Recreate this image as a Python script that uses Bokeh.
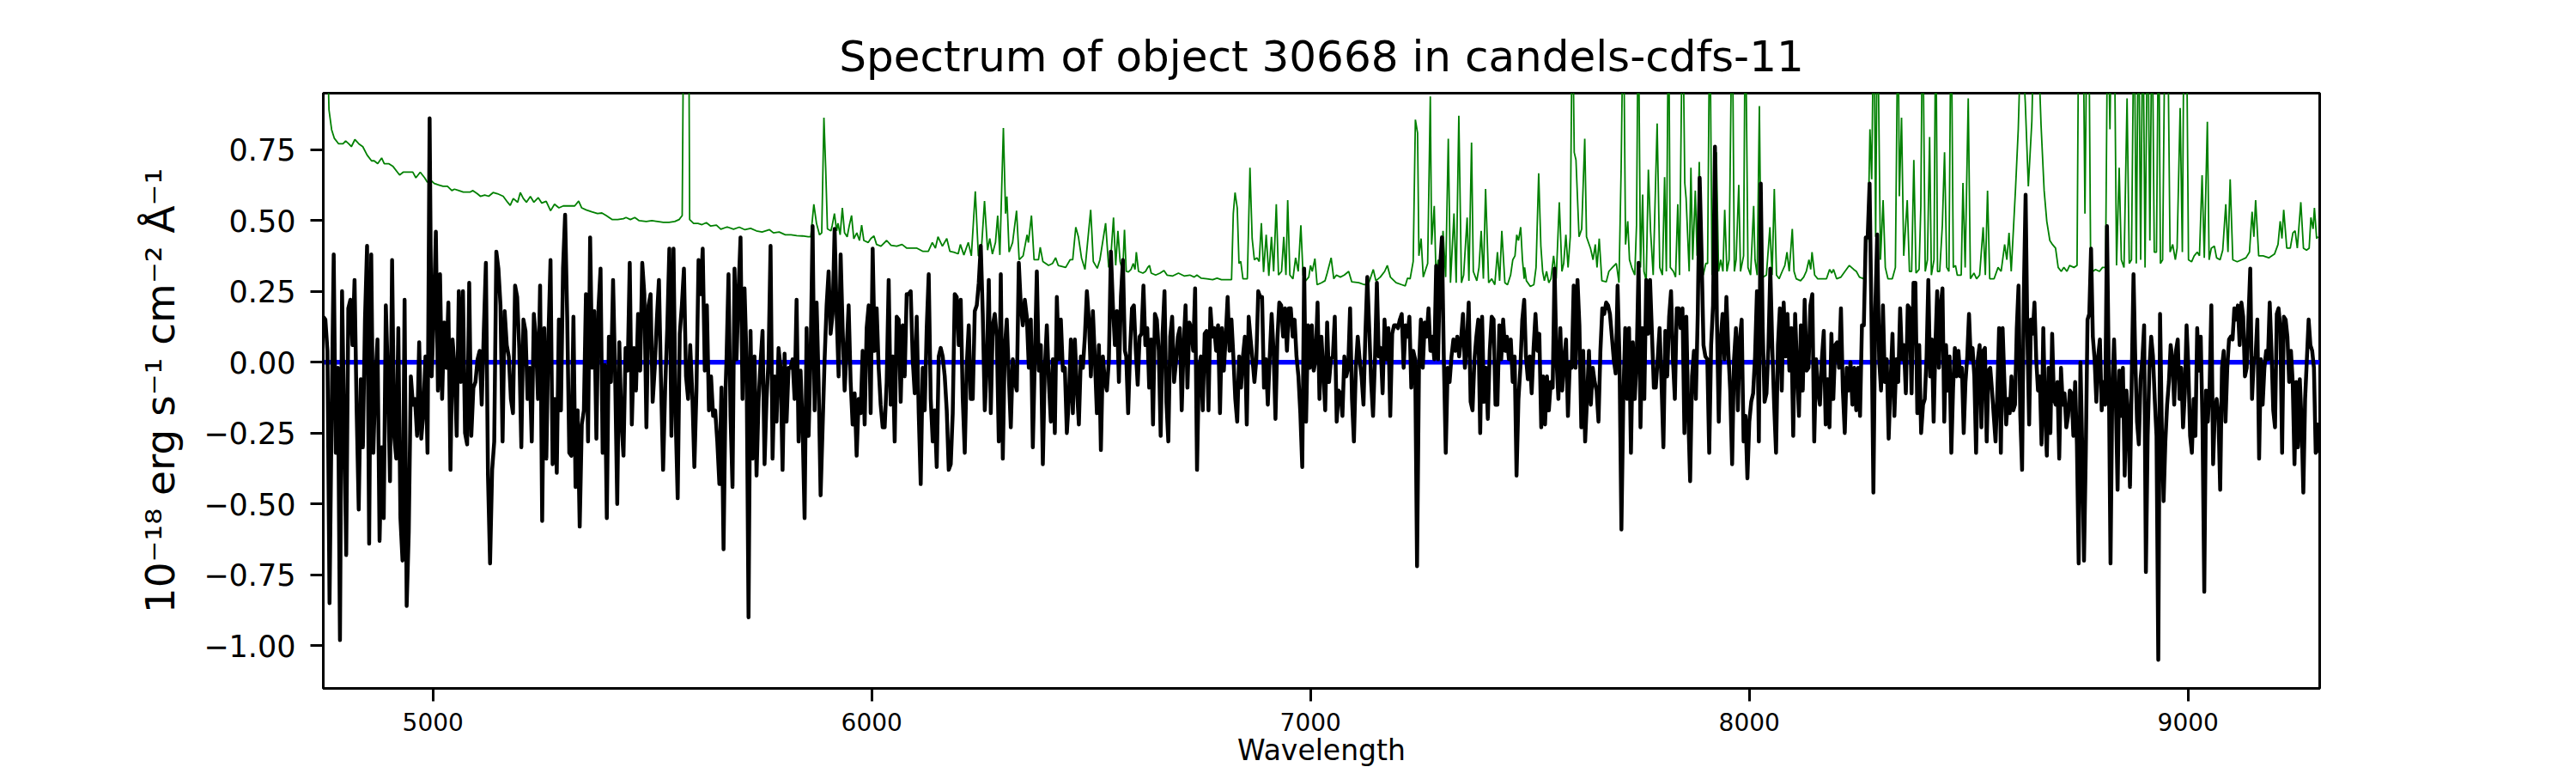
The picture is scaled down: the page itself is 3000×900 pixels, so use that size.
import numpy as np
from bokeh.plotting import figure
from bokeh.models import Range1d, FixedTicker, ColumnDataSource
from bokeh.embed import file_html
from bokeh.resources import INLINE

# ---------------- data ----------------
# observed flux (black), five consecutive wavelength stretches
seg_ranges = [(4750, 5667), (5669, 6577), (6580, 7487), (7491, 8396), (8400, 9299)]

flux_seg1 = [0.16, 0.15, 0.04, -0.85, -0.18, 0.38, -0.32, -0.02, -0.98, 0.25, -0.21, -0.68, 0.19, 0.22, 0.06, 0.29,
             -0.17, -0.52, -0.06, -0.30, 0.15, 0.41, -0.64, 0.38, -0.32, -0.06, 0.08, -0.63, -0.30, -0.55, 0.20, -0.05,
             -0.42, 0.36, -0.26, -0.34, 0.12, -0.55, -0.70, 0.22, -0.86, -0.60, -0.05, -0.15, -0.13, -0.26, 0.07, -0.27,
             -0.18, 0.02, -0.32, 0.86, -0.05, 0.17, 0.46, -0.10, 0.31, -0.13, 0.14, -0.02, 0.21, -0.38, 0.08, -0.02,
             -0.26, 0.25, -0.07, 0.25, -0.25, -0.29, 0.28, -0.26, -0.09, -0.07, 0.01, 0.04, -0.15, 0.11, 0.35, -0.40,
             -0.71, -0.38, -0.28, 0.39, 0.33, 0.20, -0.28, 0.18, 0.06, 0.02, -0.13, -0.18, 0.27, 0.23, 0.05, -0.30,
             0.15, 0.11, -0.13, -0.02, -0.28, 0.17, 0.08, -0.13, 0.27, -0.56, 0.12, -0.34, 0.09, 0.36, -0.36, -0.13,
             -0.39, 0.15, -0.17, 0.33, 0.52, 0.16, -0.32, -0.33, 0.16, -0.44, -0.17, -0.58, -0.22, -0.17, 0.24, -0.28,
             0.44, -0.02, 0.18, -0.27, 0.19, 0.33, -0.32, -0.01, -0.55, 0.09, -0.07, 0.29, -0.05, -0.50, 0.07, -0.21,
             -0.33, 0.05, -0.03, 0.35, -0.22, 0.05, -0.10, 0.17, -0.03, 0.35, 0.24, -0.23, 0.20, 0.24, -0.14, -0.02,
             0.15, 0.29, -0.07, -0.38, -0.09, 0.12, 0.40, -0.26, 0.40, -0.19, -0.48, 0.10, 0.20, 0.33, -0.05, -0.13,
             0.06, -0.11, -0.37, -0.10, 0.36, 0.24, 0.40, -0.03, 0.20, -0.17, -0.05, -0.19, -0.17, -0.28, -0.43, -0.09,
             -0.66, -0.09]

flux_seg2 = [0.01, 0.31, -0.19, -0.44, 0.33, 0.01, 0.25, 0.44, -0.13, 0.26, 0.01, -0.90, 0.11, -0.34, 0.02, -0.40,
             -0.14, 0.00, 0.11, -0.36, -0.13, 0.01, 0.41, -0.34, -0.05, -0.21, 0.05, -0.02, -0.38, 0.03, -0.21, -0.02,
             -0.02, 0.01, -0.13, 0.22, -0.28, -0.03, -0.23, -0.55, 0.12, -0.26, 0.02, 0.48, -0.17, 0.21, -0.07, -0.47,
             -0.23, 0.01, 0.20, 0.32, 0.10, 0.17, 0.47, 0.17, -0.05, 0.38, 0.12, -0.10, 0.04, 0.20, -0.07, -0.22,
             -0.11, -0.33, -0.13, -0.18, 0.04, -0.22, 0.12, 0.20, -0.18, 0.40, 0.04, 0.19, -0.02, -0.15, -0.23, -0.23,
             -0.07, 0.29, -0.15, 0.02, -0.28, 0.16, 0.15, -0.14, 0.13, -0.05, 0.24, 0.24, 0.25, 0.01, -0.11, 0.16,
             -0.18, -0.43, -0.02, -0.17, 0.12, 0.31, -0.13, -0.28, -0.17, -0.37, 0.02, 0.05, 0.02, -0.05, -0.17, -0.38,
             -0.36, -0.18, 0.24, 0.23, 0.06, 0.22, -0.13, -0.32, -0.01, 0.13, -0.13, -0.13, 0.18, 0.20, 0.28, 0.41,
             0.17, -0.17, -0.02, 0.29, -0.18, 0.13, 0.17, 0.09, -0.28, 0.31, -0.34, 0.05, 0.15, -0.05, -0.23, 0.01,
             -0.07, -0.10, 0.35, 0.20, 0.13, 0.22, 0.16, -0.02, 0.15, -0.30, 0.01, 0.32, -0.03, 0.06, -0.36, -0.02,
             0.13, -0.07, -0.21, 0.01, -0.25, 0.23, 0.01, 0.15, -0.03, -0.02, -0.25, -0.13, 0.08, -0.18, 0.08, -0.09,
             -0.22, 0.02, -0.02, 0.09, 0.25, 0.15, -0.05, 0.18, 0.01, -0.18, 0.06, -0.31, 0.02, -0.07, -0.10, 0.01,
             0.39, 0.20, 0.06, 0.18, -0.07, 0.23, 0.36, 0.04]

flux_seg3 = [0.02, -0.18, 0.04, 0.19, 0.20, 0.04, -0.08, 0.09, 0.10, 0.27, 0.06, 0.12, -0.09, 0.08, -0.22, 0.17,
             0.15, 0.04, -0.26, 0.10, 0.25, -0.14, -0.28, 0.09, 0.16, -0.07, 0.00, 0.09, 0.12, -0.17, 0.06, 0.20,
             -0.09, 0.14, 0.12, 0.04, 0.26, -0.38, -0.02, 0.02, -0.17, 0.10, 0.11, -0.17, 0.19, 0.09, 0.12, 0.04,
             0.13, -0.18, 0.12, -0.03, 0.09, 0.23, 0.04, 0.15, 0.02, -0.13, -0.21, 0.02, -0.09, 0.02, 0.09, -0.22,
             0.16, 0.08, 0.01, -0.07, 0.01, 0.25, 0.23, 0.23, -0.09, 0.01, -0.15, 0.02, 0.17, 0.04, -0.20, 0.08,
             0.21, 0.20, 0.09, 0.19, 0.04, 0.19, 0.19, 0.09, 0.15, 0.02, -0.05, -0.18, -0.37, 0.33, -0.21, 0.13,
             -0.02, 0.13, -0.03, 0.01, 0.21, -0.13, 0.09, -0.03, -0.17, 0.14, -0.07, 0.01, 0.02, 0.16, -0.21, -0.10,
             -0.11, -0.19, 0.02, -0.05, -0.02, 0.19, -0.13, -0.28, -0.02, 0.09, 0.01, -0.05, -0.15, 0.10, 0.30, 0.12,
             -0.07, -0.19, 0.01, 0.28, 0.02, 0.05, -0.11, 0.15, 0.01, 0.12, -0.19, 0.10, 0.13, 0.13, 0.12, 0.15,
             0.17, -0.02, 0.13, 0.09, 0.16, -0.09, 0.04, 0.01, -0.72, -0.02, 0.15, -0.02, 0.14, 0.09, 0.19, 0.04,
             0.09, 0.01, 0.34, 0.01, 0.33, 0.44, 0.01, -0.32, -0.02, -0.07, 0.02, 0.08, 0.04, 0.09, 0.02, 0.08,
             0.17, -0.02, 0.06, 0.21, -0.14, -0.17, 0.01, 0.09, 0.15, -0.25, 0.16, -0.14, -0.02, -0.20, 0.04, 0.16,
             0.15, -0.15, -0.15, 0.13, 0.01, 0.15, 0.04, 0.09, 0.01, 0.08, -0.07, 0.02, -0.40, -0.13, -0.02, 0.15,
             0.22]

flux_seg4 = [0.02, -0.06, 0.02, -0.11, 0.05, 0.17, 0.04, 0.10, -0.23, -0.05, -0.22, -0.05, -0.17, -0.07, -0.09, 0.33,
             0.01, -0.13, 0.12, -0.10, 0.01, 0.08, -0.19, 0.00, -0.02, 0.27, -0.02, 0.29, 0.13, -0.23, 0.04, -0.28,
             -0.13, 0.04, -0.15, -0.02, -0.07, -0.10, -0.21, 0.04, 0.19, 0.17, 0.21, 0.20, 0.17, 0.09, 0.01, -0.04,
             0.27, 0.01, -0.59, -0.13, 0.12, -0.13, 0.12, -0.32, 0.07, -0.13, 0.01, 0.35, -0.23, 0.12, -0.13, 0.29,
             0.10, 0.29, 0.10, -0.09, -0.09, 0.01, 0.12, -0.07, -0.30, 0.11, -0.05, 0.16, 0.25, 0.01, -0.13, 0.19,
             0.19, 0.12, 0.19, -0.25, 0.16, -0.18, -0.42, -0.05, 0.04, -0.13, 0.17, 0.65, 0.38, 0.06, 0.02, 0.01,
             -0.32, 0.06, 0.20, 0.76, 0.16, -0.21, 0.08, 0.17, 0.01, 0.23, 0.04, -0.10, -0.36, 0.01, 0.12, -0.17,
             0.08, 0.15, -0.28, -0.19, -0.41, -0.21, -0.14, -0.11, 0.02, 0.25, -0.28, 0.63, 0.12, -0.14, -0.11, 0.05,
             0.33, 0.06, -0.15, -0.32, 0.06, 0.19, -0.10, 0.21, 0.02, 0.17, -0.03, 0.12, -0.26, 0.17, -0.02, -0.19,
             0.13, -0.10, 0.22, -0.03, -0.02, 0.20, 0.24, -0.28, 0.01, -0.10, -0.15, 0.01, 0.11, -0.22, -0.06, -0.23,
             0.10, -0.13, 0.06, 0.07, -0.02, 0.19, -0.10, -0.25, -0.02, -0.10, 0.00, -0.15, -0.02, -0.17, -0.02, -0.19,
             0.13, 0.13, 0.44, 0.44, 0.63, 0.15, -0.46, 0.19, 0.45, 0.01, -0.10, 0.20, -0.07, 0.01, -0.27, -0.07,
             0.10, -0.19, 0.01, -0.07, 0.19, 0.01, 0.06, -0.11, 0.20, 0.19, -0.11, 0.28, 0.28, -0.18, 0.06, -0.25,
             -0.15]

flux_seg5 = [-0.13, 0.02, 0.29, -0.05, 0.08, -0.21, 0.06, 0.25, -0.02, 0.20, 0.26, -0.21, 0.06, -0.10, 0.02, -0.32,
             -0.09, 0.05, -0.05, 0.04, -0.05, -0.02, -0.25, -0.07, 0.02, 0.17, 0.01, 0.05, -0.05, -0.32, 0.01, 0.06,
             -0.23, 0.04, 0.05, -0.28, -0.03, -0.02, -0.10, -0.19, -0.28, -0.11, 0.12, -0.32, 0.12, -0.07, -0.22, -0.13,
             -0.18, -0.05, -0.17, -0.15, 0.12, 0.27, -0.19, -0.38, 0.25, 0.59, 0.09, -0.22, 0.15, 0.10, 0.21, 0.01,
             -0.10, -0.05, -0.29, 0.12, -0.17, -0.33, -0.02, -0.25, 0.10, -0.13, -0.15, -0.07, -0.34, -0.02, -0.15, -0.11,
             -0.23, -0.19, -0.10, -0.11, -0.26, -0.07, -0.29, -0.71, 0.00, -0.30, -0.70, -0.33, 0.15, 0.17, 0.40, 0.09,
             0.01, -0.14, 0.02, 0.08, -0.17, -0.07, -0.15, 0.48, -0.02, -0.71, -0.10, 0.08, -0.13, -0.45, -0.03, -0.19,
             -0.02, -0.40, -0.10, -0.19, -0.44, -0.05, 0.31, 0.01, -0.21, -0.29, -0.06, 0.01, 0.13, -0.74, -0.26, -0.02,
             0.09, 0.02, -0.13, -0.26, -1.05, 0.17, -0.23, -0.49, -0.28, -0.15, -0.07, 0.06, 0.01, -0.15, 0.04, 0.08,
             -0.13, -0.02, -0.23, -0.11, 0.13, -0.02, -0.26, -0.32, -0.13, -0.26, 0.12, -0.03, 0.09, -0.22, -0.81, -0.10,
             -0.21, -0.09, 0.20, -0.36, -0.17, -0.13, -0.19, -0.45, -0.02, 0.04, -0.21, -0.02, 0.08, 0.09, 0.08, 0.19,
             0.15, 0.20, 0.06, 0.21, 0.16, -0.05, -0.02, 0.16, 0.33, -0.13, 0.01, 0.02, 0.15, -0.34, 0.01, -0.15,
             -0.02, 0.04, 0.01, 0.21, 0.04, -0.17, -0.23, 0.17, 0.19, 0.12, -0.32, 0.16, 0.15, 0.09, -0.07, 0.04,
             -0.07, -0.36, -0.07, -0.30, -0.06, -0.21, -0.46, -0.13, 0.01, 0.15, 0.06, 0.04, -0.02, -0.32, -0.22, -0.32]

# noise / sky spectrum (green): (wavelength, value) nodes
sky_a = [(4750, 1.3), (4762, 0.95), (4763, 0.89), (4769, 0.82), (4775, 0.79), (4785, 0.77), (4795, 0.77),
         (4801, 0.78), (4808, 0.77), (4814, 0.76), (4822, 0.785), (4831, 0.77), (4840, 0.76), (4850, 0.73),
         (4860, 0.71), (4866, 0.71), (4874, 0.70), (4883, 0.72), (4889, 0.70), (4899, 0.70), (4909, 0.69),
         (4919, 0.67), (4924, 0.66), (4932, 0.67), (4945, 0.67), (4954, 0.67), (4961, 0.65), (4971, 0.67),
         (4981, 0.65), (4987, 0.635), (4996, 0.64), (5003, 0.63), (5013, 0.625), (5023, 0.62), (5033, 0.62),
         (5043, 0.605), (5049, 0.61), (5059, 0.605), (5069, 0.60), (5078, 0.60), (5085, 0.60), (5091, 0.605),
         (5101, 0.594), (5108, 0.585), (5118, 0.589), (5127, 0.585), (5137, 0.598), (5147, 0.594), (5160, 0.585),
         (5170, 0.564), (5176, 0.553), (5183, 0.577), (5193, 0.564), (5199, 0.598), (5206, 0.577), (5213, 0.564),
         (5222, 0.584), (5230, 0.564), (5240, 0.58), (5248, 0.561), (5258, 0.567), (5268, 0.534), (5277, 0.557),
         (5287, 0.544), (5297, 0.551), (5310, 0.551), (5323, 0.551), (5332, 0.568), (5339, 0.544), (5349, 0.537),
         (5362, 0.53), (5375, 0.524), (5385, 0.526), (5395, 0.517), (5408, 0.503), (5421, 0.503), (5434, 0.506),
         (5440, 0.51), (5450, 0.503), (5460, 0.51), (5470, 0.499), (5486, 0.496), (5499, 0.499), (5512, 0.496),
         (5525, 0.493), (5538, 0.493), (5551, 0.496), (5561, 0.503), (5568, 0.517), (5572, 1.4), (5577, 1.6),
         (5583, 1.2), (5585, 0.503), (5594, 0.489), (5604, 0.489), (5613, 0.485), (5623, 0.492), (5633, 0.48),
         (5646, 0.483), (5656, 0.469), (5669, 0.476)]

sky_b = [(5672, 0.476), (5685, 0.469), (5698, 0.476), (5711, 0.467), (5724, 0.472), (5737, 0.463), (5750, 0.459),
         (5767, 0.467), (5776, 0.456), (5789, 0.459), (5803, 0.449), (5816, 0.449), (5829, 0.446), (5842, 0.445),
         (5855, 0.442), (5861, 0.442), (5868, 0.557), (5874, 0.490), (5881, 0.449), (5886, 0.456), (5891, 0.862),
         (5895, 0.686), (5899, 0.470), (5907, 0.463), (5910, 0.483), (5915, 0.524), (5920, 0.463), (5923, 0.490),
         (5928, 0.449), (5933, 0.544), (5938, 0.456), (5944, 0.442), (5949, 0.483), (5954, 0.517), (5959, 0.435),
         (5966, 0.456), (5972, 0.429), (5977, 0.483), (5982, 0.429), (5992, 0.422), (5998, 0.436), (6005, 0.445),
         (6011, 0.415), (6021, 0.409), (6034, 0.429), (6044, 0.412), (6057, 0.409), (6069, 0.415), (6080, 0.402),
         (6090, 0.402), (6103, 0.402), (6116, 0.391), (6129, 0.391), (6138, 0.422), (6145, 0.402), (6151, 0.442),
         (6161, 0.409), (6171, 0.436), (6178, 0.391), (6187, 0.388), (6197, 0.382), (6202, 0.415), (6210, 0.378),
         (6220, 0.422), (6227, 0.375), (6236, 0.602), (6243, 0.375), (6249, 0.375), (6257, 0.568), (6264, 0.395),
         (6269, 0.436), (6275, 0.381), (6282, 0.422), (6287, 0.517), (6292, 0.378), (6300, 0.826), (6305, 0.524),
         (6308, 0.584), (6313, 0.388), (6321, 0.422), (6330, 0.534), (6336, 0.361), (6345, 0.375), (6354, 0.449),
         (6357, 0.422), (6364, 0.517), (6370, 0.361), (6380, 0.361), (6384, 0.405), (6390, 0.355), (6403, 0.341),
         (6412, 0.348), (6419, 0.368), (6425, 0.341), (6442, 0.334), (6452, 0.361), (6458, 0.361), (6465, 0.476),
         (6471, 0.442), (6478, 0.368), (6486, 0.327), (6499, 0.537), (6505, 0.355), (6514, 0.331), (6520, 0.361),
         (6533, 0.490), (6540, 0.334), (6546, 0.395), (6551, 0.510), (6556, 0.341), (6561, 0.463), (6566, 0.355)]

sky_c = [(6572, 0.320), (6576, 0.467), (6580, 0.320), (6585, 0.318), (6591, 0.327), (6596, 0.348), (6600, 0.327),
         (6603, 0.388), (6608, 0.320), (6618, 0.314), (6624, 0.320), (6629, 0.334), (6633, 0.341), (6637, 0.314),
         (6647, 0.307), (6657, 0.314), (6666, 0.323), (6673, 0.307), (6686, 0.304), (6699, 0.314), (6712, 0.304),
         (6725, 0.307), (6735, 0.300), (6741, 0.307), (6751, 0.296), (6764, 0.294), (6777, 0.291), (6787, 0.296),
         (6797, 0.291), (6820, 0.291), (6824, 0.524), (6828, 0.598), (6833, 0.544), (6837, 0.348), (6841, 0.355),
         (6846, 0.294), (6856, 0.294), (6862, 0.686), (6867, 0.436), (6872, 0.361), (6878, 0.368), (6883, 0.355),
         (6888, 0.490), (6893, 0.318), (6899, 0.449), (6905, 0.304), (6911, 0.442), (6916, 0.320), (6922, 0.557),
         (6927, 0.307), (6934, 0.320), (6939, 0.442), (6944, 0.307), (6948, 0.571), (6953, 0.307), (6960, 0.294),
         (6966, 0.368), (6972, 0.320), (6978, 0.483), (6983, 0.307), (6989, 0.287), (6996, 0.300), (7000, 0.341),
         (7004, 0.320), (7010, 0.365), (7015, 0.273), (7025, 0.280), (7033, 0.287), (7038, 0.314), (7047, 0.368),
         (7053, 0.294), (7059, 0.307), (7068, 0.300), (7077, 0.307), (7087, 0.320), (7094, 0.283), (7110, 0.280),
         (7123, 0.273), (7133, 0.280), (7143, 0.327), (7149, 0.287), (7159, 0.300), (7169, 0.320), (7175, 0.341),
         (7182, 0.300), (7195, 0.280), (7208, 0.273), (7216, 0.269), (7221, 0.296), (7227, 0.294), (7234, 0.355),
         (7239, 0.855), (7244, 0.808), (7247, 0.375), (7252, 0.436), (7257, 0.300), (7261, 0.320), (7267, 0.348),
         (7273, 0.937), (7276, 0.415), (7282, 0.551), (7286, 0.307), (7291, 0.361), (7297, 0.280), (7302, 0.463),
         (7308, 0.300), (7314, 0.788), (7319, 0.280), (7327, 0.524), (7332, 0.280), (7338, 0.869), (7344, 0.280),
         (7349, 0.307), (7357, 0.510), (7361, 0.287), (7367, 0.774), (7371, 0.320), (7379, 0.287), (7384, 0.334),
         (7389, 0.463), (7394, 0.294), (7399, 0.611), (7406, 0.280), (7413, 0.294), (7420, 0.273), (7426, 0.388),
         (7431, 0.287), (7436, 0.463), (7443, 0.280), (7449, 0.273), (7456, 0.307), (7461, 0.361), (7466, 0.375),
         (7470, 0.449), (7474, 0.429), (7479, 0.476), (7483, 0.361), (7487, 0.294)]

sky_d = [(7488, 0.334), (7492, 0.287), (7501, 0.267), (7509, 0.273), (7514, 0.334), (7520, 0.666), (7525, 0.409),
         (7529, 0.320), (7533, 0.287), (7538, 0.320), (7543, 0.280), (7548, 0.294), (7554, 0.375), (7560, 0.294),
         (7567, 0.564), (7573, 0.320), (7577, 0.348), (7582, 0.449), (7587, 0.334), (7592, 0.442), (7597, 1.3),
         (7601, 0.740), (7605, 0.713), (7612, 0.442), (7618, 0.469), (7625, 0.788), (7629, 0.442), (7638, 0.402),
         (7644, 0.361), (7649, 0.415), (7653, 0.334), (7658, 0.436), (7664, 0.287), (7674, 0.283), (7680, 0.320),
         (7688, 0.334), (7697, 0.348), (7703, 0.280), (7708, 0.686), (7713, 1.3), (7718, 0.415), (7723, 0.497),
         (7727, 0.361), (7732, 0.334), (7739, 0.307), (7743, 0.483), (7747, 1.3), (7752, 0.334), (7757, 0.591),
         (7760, 0.320), (7765, 0.287), (7770, 0.679), (7775, 0.463), (7781, 0.307), (7790, 0.842), (7796, 0.334),
         (7802, 0.307), (7807, 0.652), (7811, 0.320), (7816, 1.3), (7820, 0.334), (7827, 0.320), (7832, 0.300),
         (7837, 0.557), (7841, 0.307), (7848, 1.3), (7853, 0.632), (7856, 0.578), (7863, 0.320), (7867, 0.686),
         (7871, 0.361), (7877, 0.605), (7881, 0.375), (7886, 0.706), (7890, 0.415), (7895, 0.307), (7901, 0.348),
         (7905, 0.348), (7910, 1.3), (7915, 0.307), (7920, 0.388), (7925, 0.740), (7930, 0.320), (7935, 0.361),
         (7940, 0.320), (7944, 0.537), (7949, 0.320), (7954, 0.361), (7961, 1.3), (7966, 0.320), (7970, 0.361),
         (7976, 0.625), (7980, 0.320), (7987, 0.375), (7991, 1.3), (7997, 0.334), (8003, 0.307), (8010, 0.551),
         (8013, 0.361), (8018, 0.307), (8023, 0.903), (8027, 0.320), (8032, 0.300), (8039, 0.307), (8047, 0.476),
         (8052, 0.307), (8057, 0.611), (8062, 0.307), (8068, 0.294), (8075, 0.320), (8081, 0.341), (8086, 0.388),
         (8091, 0.320), (8098, 0.470), (8102, 0.320), (8107, 0.294), (8117, 0.287), (8124, 0.300), (8130, 0.320),
         (8136, 0.361), (8140, 0.327), (8143, 0.388), (8149, 0.307), (8156, 0.294), (8166, 0.294), (8176, 0.294),
         (8183, 0.327), (8188, 0.314), (8192, 0.327), (8199, 0.294), (8209, 0.300), (8218, 0.320), (8228, 0.341),
         (8238, 0.327), (8244, 0.320), (8251, 0.300), (8261, 0.294), (8271, 0.476), (8275, 0.821), (8279, 0.645),
         (8284, 1.3), (8288, 0.442), (8292, 1.3), (8299, 0.361), (8305, 0.571), (8310, 0.334), (8316, 0.294),
         (8326, 0.294), (8333, 0.334), (8339, 1.3), (8342, 0.585), (8347, 0.862), (8352, 0.375), (8360, 0.571),
         (8365, 0.320), (8370, 0.320), (8375, 0.713), (8380, 0.314), (8387, 0.327), (8391, 0.550), (8395, 1.3)]

sky_e = [(8401, 0.320), (8406, 0.361), (8411, 0.794), (8415, 0.307), (8421, 0.361), (8425, 1.3), (8429, 0.320),
         (8434, 0.320), (8440, 0.483), (8445, 0.740), (8450, 0.334), (8455, 0.320), (8460, 1.3), (8465, 0.334),
         (8470, 0.341), (8474, 0.307), (8483, 0.307), (8487, 0.632), (8492, 0.334), (8499, 0.930), (8504, 0.294),
         (8512, 0.314), (8518, 0.294), (8525, 0.307), (8533, 0.476), (8538, 0.307), (8543, 0.605), (8548, 0.294),
         (8558, 0.294), (8567, 0.334), (8574, 0.320), (8582, 0.415), (8587, 0.361), (8592, 0.456), (8597, 0.320),
         (8607, 0.618), (8613, 0.821), (8620, 1.2), (8629, 0.916), (8636, 0.62), (8644, 0.85), (8649, 1.2),
         (8659, 1.1), (8665, 0.835), (8672, 0.605), (8678, 0.497), (8685, 0.429), (8691, 0.415), (8698, 0.402),
         (8704, 0.334), (8711, 0.320), (8717, 0.334), (8724, 0.320), (8730, 0.341), (8740, 0.334), (8747, 0.341),
         (8751, 1.3), (8757, 1.3), (8761, 1.2), (8765, 0.524), (8770, 1.3), (8774, 1.2), (8778, 0.347),
         (8783, 0.320), (8789, 0.327), (8798, 0.320), (8805, 0.334), (8812, 0.334), (8817, 1.3), (8822, 0.821),
         (8826, 1.3), (8832, 1.2), (8837, 0.341), (8843, 0.686), (8848, 0.361), (8854, 0.334), (8861, 0.930),
         (8866, 0.348), (8871, 0.361), (8877, 1.3), (8882, 0.348), (8887, 1.3), (8892, 0.361), (8897, 1.3),
         (8902, 0.334), (8908, 1.3), (8913, 0.429), (8918, 1.3), (8923, 0.388), (8928, 0.388), (8933, 1.3),
         (8937, 0.348), (8942, 0.361), (8948, 1.3), (8953, 1.3), (8959, 0.388), (8965, 0.415), (8971, 0.361),
         (8975, 0.402), (8982, 0.896), (8987, 0.388), (8991, 1.3), (8996, 1.3), (9001, 0.361), (9008, 0.354),
         (9014, 0.375), (9021, 0.388), (9026, 0.375), (9032, 0.659), (9037, 0.368), (9044, 0.848), (9048, 0.361),
         (9053, 0.402), (9060, 0.409), (9065, 0.368), (9073, 0.361), (9079, 0.395), (9086, 0.557), (9091, 0.388),
         (9096, 0.645), (9102, 0.361), (9112, 0.354), (9122, 0.361), (9132, 0.368), (9140, 0.388), (9146, 0.530),
         (9150, 0.442), (9154, 0.571), (9161, 0.375), (9171, 0.375), (9184, 0.368), (9197, 0.381), (9205, 0.415),
         (9210, 0.497), (9214, 0.436), (9218, 0.537), (9225, 0.402), (9233, 0.402), (9239, 0.456), (9244, 0.463),
         (9249, 0.402), (9257, 0.564), (9263, 0.402), (9270, 0.395), (9276, 0.402), (9280, 0.510), (9285, 0.470),
         (9288, 0.544), (9293, 0.436), (9296, 0.443)]

# model (blue): flat zero line over the whole range
model_wave = [4750, 9300]
model_flux = [0.0, 0.0]

x_ticks = [5000, 6000, 7000, 8000, 9000]
y_ticks = [-1.0, -0.75, -0.5, -0.25, 0.0, 0.25, 0.5, 0.75]
y_tick_labels = ["\u22121.00", "\u22120.75", "\u22120.50", "\u22120.25", "0.00", "0.25", "0.50", "0.75"]

title_text = "Spectrum of object 30668 in candels-cdfs-11"
x_label = "Wavelength"
y_label = "10\u207b\u00b9\u2078 erg s\u207b\u00b9 cm\u207b\u00b2 \u00c5\u207b\u00b9"

# ---------------- build columns ----------------
segs = [flux_seg1, flux_seg2, flux_seg3, flux_seg4, flux_seg5]
wave = np.concatenate([np.linspace(a, b, len(s)) for (a, b), s in zip(seg_ranges, segs)])
flux = np.concatenate([np.asarray(s, dtype=float) for s in segs])

sky_nodes = sky_a + sky_b + sky_c + sky_d + sky_e
sky_wave = [w for w, _ in sky_nodes]
sky_flux = [v for _, v in sky_nodes]

src_flux = ColumnDataSource(data=dict(x=wave, y=flux))
src_sky = ColumnDataSource(data=dict(x=sky_wave, y=sky_flux))
src_model = ColumnDataSource(data=dict(x=model_wave, y=model_flux))

FONT = "DejaVu Sans"
X0, X1 = 4750, 9300

p = figure(width=2984, height=900,
           x_range=Range1d(X0, X1), y_range=Range1d(-1.1506, 0.9485),
           output_backend="svg", toolbar_location=None,
           min_border_left=376, min_border_right=283,
           min_border_top=108, min_border_bottom=99,
           title=title_text)

p.background_fill_color = "white"
p.border_fill_color = "white"
p.xgrid.visible = False
p.ygrid.visible = False
p.outline_line_color = "black"
p.outline_line_width = 3

p.title.align = "center"
p.title.text_font = FONT
p.title.text_font_size = "50px"
p.title.text_font_style = "normal"
p.title.text_color = "black"
p.title.standoff = 27

for ax in (p.xaxis[0], p.yaxis[0]):
    ax.axis_line_color = "black"
    ax.axis_line_width = 3
    ax.major_tick_line_color = "black"
    ax.major_tick_line_width = 3
    ax.major_tick_out = 15
    ax.major_tick_in = 0
    ax.minor_tick_line_color = None
    ax.major_label_text_font = FONT
    ax.major_label_text_color = "black"
    ax.axis_label_text_font = FONT
    ax.axis_label_text_font_style = "normal"
    ax.axis_label_text_color = "black"

p.xaxis.ticker = FixedTicker(ticks=x_ticks)
p.xaxis.major_label_text_font_size = "28px"
p.xaxis.major_label_standoff = 13
p.xaxis.axis_label = x_label
p.xaxis.axis_label_text_font_size = "33px"
p.xaxis.axis_label_standoff = 0

p.yaxis.ticker = FixedTicker(ticks=y_ticks)
p.yaxis.major_label_overrides = {t: s for t, s in zip(y_ticks, y_tick_labels)}
p.yaxis.major_label_text_font_size = "35px"
p.yaxis.major_label_standoff = 17
p.yaxis.axis_label = y_label
p.yaxis.axis_label_text_font_size = "47px"
p.yaxis.axis_label_standoff = 20

p.line("x", "y", source=src_sky, line_color="#008000", line_width=1.8)
p.line("x", "y", source=src_model, line_color="#0000ff", line_width=5.5)
p.line("x", "y", source=src_flux, line_color="black", line_width=4.5, line_join="round")

open("out.html", "w").write(file_html(p, INLINE))
